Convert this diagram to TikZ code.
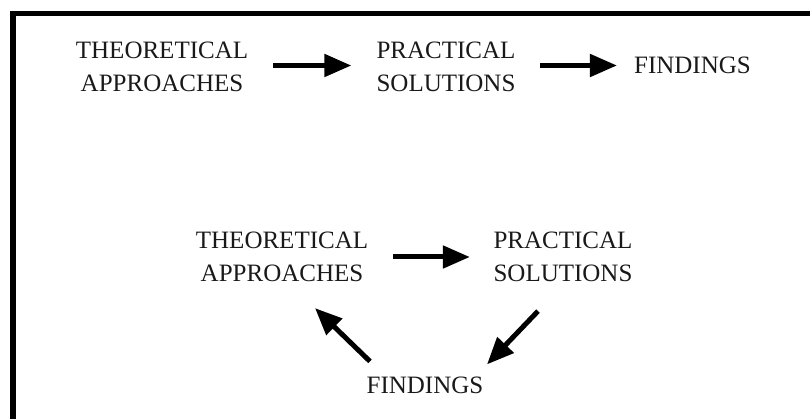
\documentclass[tikz,border=0pt]{standalone}
\usepackage{fontspec}
\setmainfont{Liberation Serif}
\usetikzlibrary{arrows.meta}
\begin{document}
\begin{tikzpicture}[x=1pt,y=-1pt,
  lbl/.style={inner sep=0pt, align=center, font=\fontsize{25}{33}\selectfont, text=black!90},
  arr/.style={line width=5pt, -{Triangle[length=27pt,width=22pt]}},
  frame/.style={line width=5.5pt, line join=miter}]
\useasboundingbox (0,0) rectangle (810,419);
\draw[frame] (12.8,419) -- (12.8,13.5) -- (810,13.5);
% top row
\node[lbl] (t1) at (162,67) {THEORETICAL\\APPROACHES};
\node[lbl] (p1) at (446,67) {PRACTICAL\\SOLUTIONS};
\node[lbl] (f1) at (692.5,65.5) {FINDINGS};
\draw[arr] ([shift={(25,-1.5)}]t1.east) -- ([shift={(-25,-1.5)}]p1.west);
\draw[arr] ([shift={(24.5,-1.5)}]p1.east) -- ([shift={(-17,0)}]f1.west);
% cycle
\node[lbl] (t2) at (282,257) {THEORETICAL\\APPROACHES};
\node[lbl] (p2) at (563,257) {PRACTICAL\\SOLUTIONS};
\node[lbl] (f2) at (425,385.5) {FINDINGS};
\draw[arr] ([shift={(25,0)}]t2.east) -- ([shift={(-23.5,0)}]p2.west);
\draw[arr] ([shift={(-25,29)}]p2.south) -- ([shift={(62,-12.5)}]f2.north);
\draw[arr] ([shift={(-55,-15.5)}]f2.north) -- ([shift={(33,26)}]t2.south);
\end{tikzpicture}
\end{document}
